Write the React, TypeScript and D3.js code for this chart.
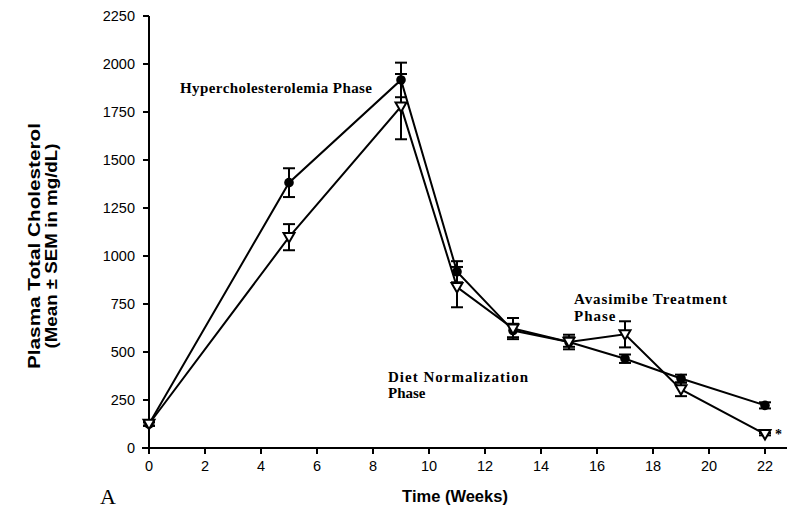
import React from "react";
import * as d3 from "d3";

const weeks = [0, 5, 9, 11, 13, 15, 17, 19, 22];
const controlMean = [125, 1382, 1917, 918, 612, 552, 465, 362, 222];
const controlSem = [10, 75, 90, 55, 35, 25, 22, 20, 16];
const avasimibeMean = [125, 1098, 1778, 838, 622, 552, 592, 305, 72];
const avasimibeSem = [8, 68, 170, 105, 55, 38, 68, 35, 6];
const xTicks = [0, 2, 4, 6, 8, 10, 12, 14, 16, 18, 20, 22];
const yTicks = [0, 250, 500, 750, 1000, 1250, 1500, 1750, 2000, 2250];

const W = 787;
const H = 510;

export default function App() {
  const x = d3.scaleLinear().domain([0, 22]).range([149, 765]);
  const y = d3.scaleLinear().domain([0, 2250]).range([448, 16]);
  const line = d3
    .line<number>()
    .x((_, i) => x(weeks[i]))
    .y((d) => y(d));

  const capW = 6;
  const sans = "'Liberation Sans', Arial, sans-serif";
  const serif = "'Liberation Serif', 'Times New Roman', serif";

  const errBars = (means: number[], sems: number[], key: string) =>
    means.map((m, i) => {
      const cx = x(weeks[i]);
      const y1 = y(m + sems[i]);
      const y2 = y(m - sems[i]);
      return (
        <g key={key + i} stroke="#000" strokeWidth={2}>
          <line x1={cx} x2={cx} y1={y1} y2={y2} />
          <line x1={cx - capW} x2={cx + capW} y1={y1} y2={y1} />
          <line x1={cx - capW} x2={cx + capW} y1={y2} y2={y2} />
        </g>
      );
    });

  const tri = d3.symbol().type(d3.symbolTriangle).size(52)();

  return (
    <svg
      width={W}
      height={H}
      style={{ position: "absolute", left: 0, top: 0, background: "#fff" }}
    >
      {/* axes */}
      <line x1={149} x2={149} y1={16} y2={449} stroke="#000" strokeWidth={2} />
      <line x1={142} x2={787} y1={448} y2={448} stroke="#000" strokeWidth={2} />
      {yTicks.map((t) => (
        <g key={"y" + t}>
          <line x1={143} x2={149} y1={y(t)} y2={y(t)} stroke="#000" strokeWidth={2} />
          <text
            x={135}
            y={y(t)}
            dy="0.36em"
            textAnchor="end"
            fontFamily={sans}
            fontSize={14.5}
          >
            {t}
          </text>
        </g>
      ))}
      {xTicks.map((t) => (
        <g key={"x" + t}>
          <line x1={x(t)} x2={x(t)} y1={448} y2={454} stroke="#000" strokeWidth={2} />
          <text
            x={x(t)}
            y={471}
            textAnchor="middle"
            fontFamily={sans}
            fontSize={14.5}
          >
            {t}
          </text>
        </g>
      ))}

      {/* axis titles */}
      <text
        x={455}
        y={502}
        textAnchor="middle"
        fontFamily={sans}
        fontSize={16.5}
        fontWeight="bold"
      >
        Time (Weeks)
      </text>
      <g transform="translate(0,246) rotate(-90)">
        <text
          textAnchor="middle"
          fontFamily={sans}
          fontSize={17}
          fontWeight="bold"
          y={40}
          textLength={246}
          lengthAdjust="spacingAndGlyphs"
        >
          Plasma Total Cholesterol
        </text>
        <text
          textAnchor="middle"
          fontFamily={sans}
          fontSize={17}
          fontWeight="bold"
          y={57}
          textLength={205}
          lengthAdjust="spacingAndGlyphs"
        >
          (Mean ± SEM in mg/dL)
        </text>
      </g>

      {/* lines */}
      <path d={line(controlMean) ?? ""} fill="none" stroke="#000" strokeWidth={2} />
      <path d={line(avasimibeMean) ?? ""} fill="none" stroke="#000" strokeWidth={2} />

      {errBars(controlMean, controlSem, "c")}
      {errBars(avasimibeMean, avasimibeSem, "a")}

      {controlMean.map((m, i) => (
        <circle key={"cm" + i} cx={x(weeks[i])} cy={y(m)} r={4.8} fill="#000" />
      ))}
      {avasimibeMean.map((m, i) => (
        <path
          key={"am" + i}
          d={tri ?? ""}
          transform={`translate(${x(weeks[i])},${y(m) - 1}) rotate(180)`}
          fill="#fff"
          stroke="#000"
          strokeWidth={2}
        />
      ))}

      <text x={775} y={439} fontFamily={serif} fontSize={14} fontWeight="bold">
        *
      </text>

      {/* annotations */}
      <text x={180} y={93} fontFamily={serif} fontSize={15} fontWeight="bold" textLength={192} lengthAdjust="spacing">
        Hypercholesterolemia Phase
      </text>
      <text x={574} y={304} fontFamily={serif} fontSize={15} fontWeight="bold" textLength={153} lengthAdjust="spacing">
        Avasimibe  Treatment
      </text>
      <text x={574} y={321} fontFamily={serif} fontSize={15} fontWeight="bold" letterSpacing={1}>
        Phase
      </text>
      <text x={388} y={382} fontFamily={serif} fontSize={15} fontWeight="bold" textLength={140} lengthAdjust="spacing">
        Diet Normalization
      </text>
      <text x={388} y={398} fontFamily={serif} fontSize={15} fontWeight="bold">
        Phase
      </text>
      <text x={100} y={504} fontFamily={serif} fontSize={22}>
        A
      </text>
    </svg>
  );
}
